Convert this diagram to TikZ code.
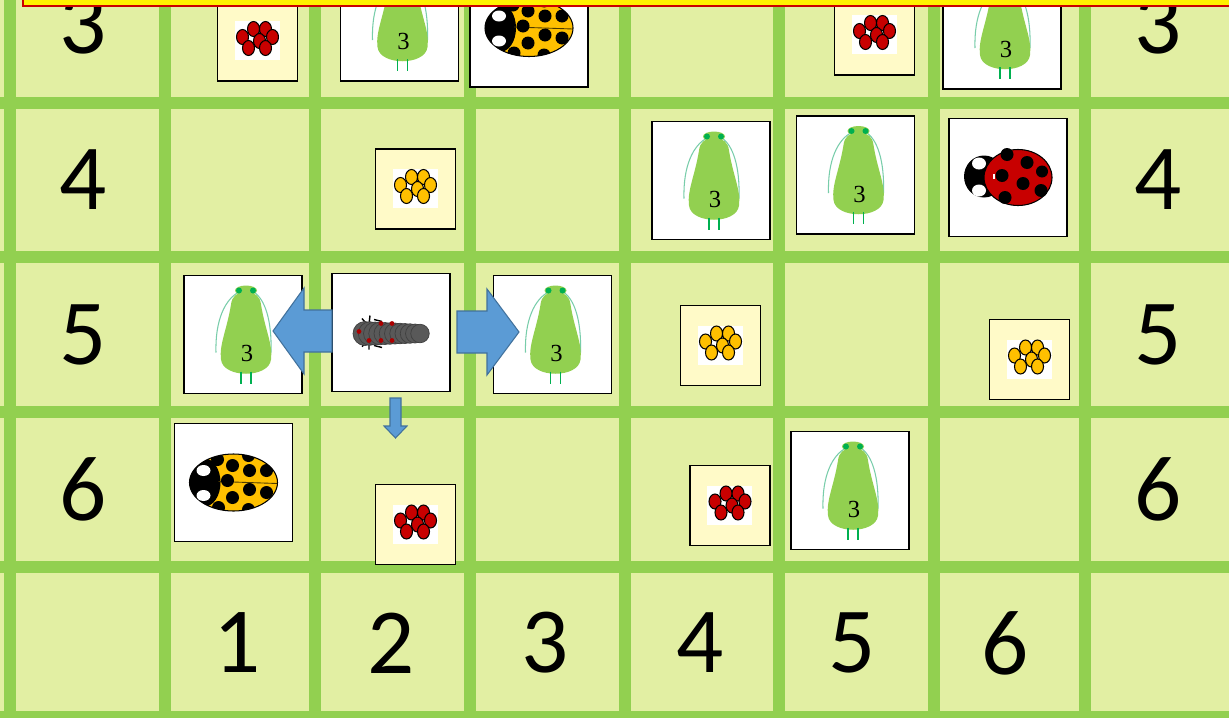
\documentclass[tikz,border=0pt]{standalone}
\usepackage{fontspec}
\newfontfamily\boardfont{Carlito}
\newfontfamily\aphidfont{Liberation Serif}
\definecolor{gridgreen}{RGB}{146,208,80}
\definecolor{cellfill}{RGB}{226,239,163}
\definecolor{eggcream}{RGB}{255,250,200}
\definecolor{aphidgreen}{RGB}{146,208,80}
\definecolor{eyegreen}{RGB}{0,176,80}
\definecolor{antennagreen}{RGB}{120,205,170}
\definecolor{birdred}{RGB}{200,0,0}
\definecolor{birdyellow}{RGB}{255,192,0}
\definecolor{larvagray}{RGB}{89,89,89}
\definecolor{arrowblue}{RGB}{91,155,213}
\definecolor{arrowedge}{RGB}{65,113,156}

\begin{document}
  \begin{tikzpicture}[x=0.02cm, y=-0.02cm,
    gridline/.style={gridgreen, line width=6.83pt},
    tile/.style={draw=black, line width=0.9pt, fill=white},
    boardnum/.style={font=\boardfont\fontsize{53}{53}\selectfont},
    blockarrow/.style={fill=arrowblue, draw=arrowedge, line width=0.6pt},
    aphid/.pic={
      \draw[tile] (-59,-59) rectangle (59,59);
      \draw[antennagreen, line width=0.6pt] (-3,-43) .. controls (-18,-36) and (-28,-14) .. (-27,18);
      \draw[antennagreen, line width=0.6pt] (10,-43) .. controls (22,-36) and (29,-14) .. (28,18);
      \fill[aphidgreen] (3,-42) .. controls (-7,-42) and (-11,-38) .. (-12,-30)
        .. controls (-16,-5) and (-24,10) .. (-22,25) .. controls (-20,44) and (26,44) .. (28,25)
        .. controls (30,10) and (22,-5) .. (18,-30) .. controls (17,-38) and (13,-42) .. (3,-42) -- cycle;
      \fill[aphidgreen] (3,-44) ellipse (11 and 5);
      \fill[eyegreen] (-4,-44) circle (3) (10,-44) circle (3);
      \draw[eyegreen, line width=1.1pt] (-2,37) -- (-2,49) (8,37) -- (8,49);
      \node[font=\aphidfont\fontsize{14}{14}\selectfont] (-num) at (4,19) {3};
    },
    redbird/.pic={
      \draw[tile] (-59,-59) rectangle (59,59);
      \fill[black] (-24,-1) ellipse (20 and 21);
      \draw[black, fill=birdred, line width=0.6pt] (10,0) ellipse (34 and 28);
      \fill[black] (-1,-23) circle (6.5) (19,-15) circle (6.5) (-6,-2) circle (6.5)
        (15,6) circle (6.5) (33,13) circle (6.5) (-3,20) circle (6.5) (34,-6) circle (6);
      \fill[white] (-29,-14) ellipse (7 and 6) (-29,13) ellipse (7 and 6);
      \fill[white] (-15,-4) rectangle (-13,1);
    },
    yellowbird/.pic={
      \draw[tile] (-59,-59) rectangle (59,59);
      \begin{scope}
        \clip (0,0) ellipse (44 and 28.5);
        \fill[birdyellow] (0,0) ellipse (44 and 28.5);
        \fill[black] (-29,0) ellipse (16 and 24);
        \draw[black!70!birdyellow, line width=0.5pt] (-15,-1) -- (44,1);
        \fill[black] (-1,-17) circle (6.5) (16,-12) circle (6.5) (33,-12) circle (6.5)
          (-6,-2) circle (6.5) (16,7) circle (6.5) (33,10) circle (6.5) (-1,15) circle (6.5)
          (-16,-23) circle (6.5) (15,-27) circle (6.5) (-15,25) circle (6.5) (15,27) circle (6.5);
      \end{scope}
      \draw[black, line width=0.6pt] (0,0) ellipse (44 and 28.5);
      \fill[white] (-30,-12) ellipse (7 and 5.5) (-30,13) ellipse (7 and 5.5);
    },
    pics/eggs/.style={code={
      \draw[tile, fill=eggcream] (-40,-40) rectangle (40,40);
      \fill[white] (-23,-20) rectangle (22,19);
      \filldraw[fill=#1, draw=black, line width=0.6pt] (-4,-12) ellipse (6 and 7.5) (8,-12) ellipse (6 and 7.5);
      \filldraw[fill=#1, draw=black, line width=0.6pt] (-15,-4) ellipse (6 and 7.5) (15,-4) ellipse (6 and 7.5);
      \filldraw[fill=#1, draw=black, line width=0.6pt] (2,0) ellipse (6 and 7.5);
      \filldraw[fill=#1, draw=black, line width=0.6pt] (-9,7) ellipse (6 and 7.5) (8,7) ellipse (6 and 7.5);
    }},
    larva/.pic={
      \draw[tile] (-59,-59) rectangle (59,59);
      \draw[black, line width=0.8pt] (-29,-14) -- (-24,-8) (-21,-17) -- (-22,-8) (-17,-13) -- (-9,-11);
      \draw[black, line width=0.8pt] (-29,14) -- (-24,9) (-22,17) -- (-22,9) (-17,13) -- (-9,15);
      \foreach \i in {0,...,11}
        \filldraw[fill=larvagray, draw=black!75, line width=0.4pt] ({-26+5*\i},1) circle ({12-0.25*\i});
      \fill[birdred!85!black] (-32,-1) circle (2.4) (-10,-9) circle (2.4) (1,-9) circle (2.4)
        (-22,8) circle (2.4) (-10,8) circle (2.4) (1,8) circle (2.4);
    }]
    \useasboundingbox (0,0) rectangle (1229,717);
    \clip (0,0) rectangle (1229,717);
    \fill[cellfill] (0,0) rectangle (1229,717);
    \draw[gridline] (10,-10) -- (10,730);
    \draw[gridline] (165,-10) -- (165,730);
    \draw[gridline] (315,-10) -- (315,730);
    \draw[gridline] (470,-10) -- (470,730);
    \draw[gridline] (625,-10) -- (625,730);
    \draw[gridline] (779,-10) -- (779,730);
    \draw[gridline] (934,-10) -- (934,730);
    \draw[gridline] (1085,-10) -- (1085,730);
    \draw[gridline] (-10,103) -- (1240,103);
    \draw[gridline] (-10,257) -- (1240,257);
    \draw[gridline] (-10,412) -- (1240,412);
    \draw[gridline] (-10,567) -- (1240,567);
    \draw[gridline] (-10,717) -- (1240,717);
    \node[boardnum] (l3) at (83,24) {3};
    \node[boardnum] (l4) at (83,180) {4};
    \node[boardnum] (l5) at (83,335) {5};
    \node[boardnum] (l6) at (83,489) {6};
    \node[boardnum] (r3) at (1158,24) {3};
    \node[boardnum] (r4) at (1158,180) {4};
    \node[boardnum] (r5) at (1158,335) {5};
    \node[boardnum] (r6) at (1158,489) {6};
    \node[boardnum] (b1) at (237,643) {1};
    \node[boardnum] (b2) at (391,643) {2};
    \node[boardnum] (b3) at (545,643) {3};
    \node[boardnum] (b4) at (700,643) {4};
    \node[boardnum] (b5) at (852,643) {5};
    \node[boardnum] (b6) at (1005,643) {6};
    \pic (e31) at (257.5,41) {eggs=birdred};
    \pic (a32) at (399.5,22) {aphid};
    \pic (y33) at (529,28) {yellowbird};
    \pic (e35) at (874.5,35) {eggs=birdred};
    \pic (a36) at (1002,30) {aphid};
    \pic (e42) at (415.5,189) {eggs=birdyellow};
    \pic (a44) at (711,180.5) {aphid};
    \pic (a45) at (855.5,175) {aphid};
    \pic (r46) at (1008,177.5) {redbird};
    \pic (a51) at (243,334.5) {aphid};
    \pic (larva) at (391,332.5) {larva};
    \pic (a53) at (552.5,334.5) {aphid};
    \pic (e54) at (720.5,345.5) {eggs=birdyellow};
    \pic (e56) at (1029.5,359.5) {eggs=birdyellow};
    \pic (y61) at (233.5,482.5) {yellowbird};
    \pic (e62) at (415.5,524.5) {eggs=birdred};
    \pic (e64) at (730,505.5) {eggs=birdred};
    \pic (a65) at (850,490.5) {aphid};
    \draw[blockarrow] (332,310) -- (304,310) -- (304,288) -- (273,331) -- (304,374) -- (304,352) -- (332,352) -- cycle;
    \draw[blockarrow] (457,311) -- (487,311) -- (487,289) -- (519,332) -- (487,375) -- (487,353) -- (457,353) -- cycle;
    \draw[blockarrow] (390,398) -- (401,398) -- (401,426) -- (407,426) -- (395.5,438) -- (384,426) -- (390,426) -- cycle;
    \draw[red!80!black, fill=yellow, line width=1.2pt] (23,-20) rectangle (1250,6);
  \end{tikzpicture}
\end{document}
